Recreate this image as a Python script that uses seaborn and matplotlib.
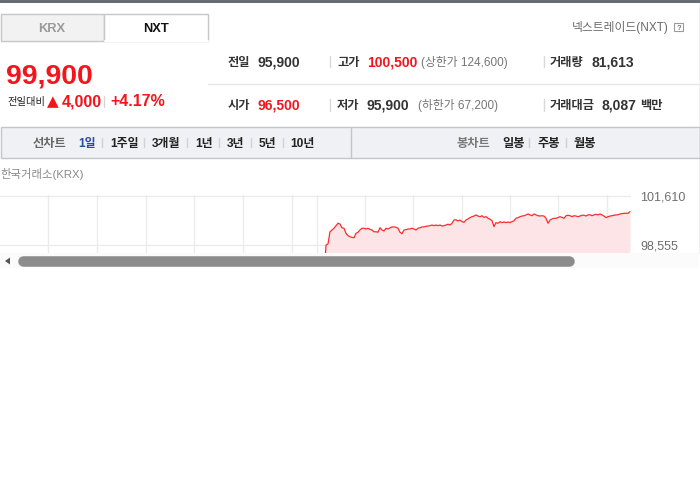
import numpy as np
import matplotlib
matplotlib.use('Agg')
import matplotlib.pyplot as plt
import seaborn as sns
from matplotlib.patches import Rectangle, Polygon
from matplotlib.lines import Line2D

# ---------------- data ----------------
exchange_tabs = ['KRX', 'NXT']
venue_label = '넥스트레이드(NXT)'
current_price = '99,900'
change_label = '전일대비'
change_amount = '4,000'
change_pct = '+4.17%'
row1_labels = ['전일', '고가', '거래량']
row1_values = ['95,900', '100,500', '81,613']
row2_labels = ['시가', '저가', '거래대금']
row2_values = ['96,500', '95,900', '8,087']
upper_limit = '(상한가 124,600)'
lower_limit = '(하한가 67,200)'
amount_unit = '백만'
line_chart_label = '선차트'
periods = ['1일', '1주일', '3개월', '1년', '3년', '5년', '10년']
candle_label = '봉차트'
candle_types = ['일봉', '주봉', '월봉']
chart_source = '한국거래소(KRX)'
ytick_values = [98555, 101610]

prices = [96500, 98550, 98620, 99380, 99490, 99600, 99760, 99910, 99860, 99630,
          99600, 99280, 99140, 99070, 99030, 99010, 99280, 99350, 99490, 99600,
          99600, 99550, 99600, 99530, 99490, 99380, 99380, 99350, 99630, 99490,
          99430, 99600, 99550, 99630, 99680, 99680, 99660, 99600, 99350, 99260,
          99490, 99510, 99550, 99550, 99600, 99550, 99490, 99600, 99630, 99680,
          99680, 99720, 99740, 99760, 99800, 99760, 99800, 99760, 99800, 99740,
          99760, 99800, 99850, 99800, 99910, 100110, 100130, 100050, 100110, 100010,
          99970, 100110, 100180, 100260, 100320, 100360, 100430, 100360, 100320, 100380,
          100280, 100320, 100220, 100160, 100070, 99700, 99950, 99910, 100010, 99950,
          99990, 99950, 99990, 99950, 100010, 100070, 100220, 100260, 100320, 100360,
          100380, 100430, 100490, 100430, 100380, 100490, 100430, 100380, 100360, 100380,
          100360, 100220, 99910, 100110, 100180, 100220, 100220, 100260, 100320, 100280,
          100220, 100380, 100410, 100380, 100320, 100380, 100360, 100320, 100360, 100410,
          100410, 100360, 100430, 100440, 100380, 100430, 100470, 100430, 100490, 100430,
          100360, 100260, 100320, 100360, 100380, 100410, 100430, 100440, 100490, 100510,
          100530, 100530, 100530, 100640]

# ---------------- style ----------------
W, H = 700, 490
RED = '#f5141c'
DARK = '#333333'
GRAY = '#767676'
BLUE = '#2c4a9e'
KR = 'Noto Sans CJK KR'
KSZ = 8.8

sns.set_theme(style='white')
plt.rcParams['font.family'] = ['Liberation Sans', KR, 'DejaVu Sans']

fig = plt.figure(figsize=(7, 4.9), dpi=100)
fig.patch.set_facecolor('white')


def fx(px):
    return px / W


def fy(py):
    return 1 - py / H


def rect(x0, y0, x1, y1, fc, ec='none', lw=0, z=1):
    r = Rectangle((fx(x0), fy(y1)), (x1 - x0) / W, (y1 - y0) / H,
                  transform=fig.transFigure, facecolor=fc, edgecolor=ec,
                  linewidth=lw, zorder=z)
    fig.add_artist(r)


def hline(x0, x1, y, c, lw=1, z=2):
    fig.add_artist(Line2D([fx(x0), fx(x1)], [fy(y), fy(y)], transform=fig.transFigure,
                          color=c, linewidth=lw, zorder=z))


def vline(x, y0, y1, c, lw=1, z=2):
    fig.add_artist(Line2D([fx(x), fx(x)], [fy(y0), fy(y1)], transform=fig.transFigure,
                          color=c, linewidth=lw, zorder=z))


def txt(x, y, s, size, color=DARK, weight='normal', ha='left', va='baseline', **kw):
    fig.text(fx(x), fy(y), s, fontsize=size, color=color, fontweight=weight,
             ha=ha, va=va, zorder=5, **kw)


# ---------------- chart ----------------
top_px, bot_px = 196, 253
per_px = (ytick_values[1] - ytick_values[0]) / (245 - 196)
y_top = ytick_values[1] + 0.6 * per_px
y_bot = ytick_values[1] - (bot_px - 196) * per_px
ax = fig.add_axes([fx(0), fy(bot_px), fx(631), (bot_px - top_px + 0.6) / H])
idx = np.arange(len(prices))
x0_px, step_px = 324, 2
ax.set_xlim((0 - x0_px) / step_px, (631 - x0_px) / step_px)
ax.set_ylim(y_bot, y_top)
grid_px = [48, 97, 146, 194, 243, 292, 317, 365, 413, 462, 510, 558, 607]
ax.set_xticks([(g - x0_px) / step_px for g in grid_px])
ax.set_xticklabels([])
ax.set_yticks(ytick_values)
ax.set_yticklabels([f'{v:,}' for v in ytick_values])
ax.yaxis.tick_right()
ax.tick_params(axis='both', length=0)
ax.tick_params(axis='y', pad=6.5, labelsize=9, labelcolor='#6e6e6e')
ax.grid(True, color='#ebebeb', linewidth=1)
ax.set_axisbelow(True)
for s in ax.spines.values():
    s.set_visible(False)
ax.fill_between(idx, prices, y_bot - 5000, color='#fde4e7', linewidth=0, zorder=1)
sns.lineplot(x=idx, y=prices, ax=ax, color='#ff2a2a', linewidth=0.9, zorder=3)
ax.set_xlabel('')
ax.set_ylabel('')

# ---------------- frame / header ----------------
rect(0, 0, 700, 3, '#666b75', z=3)
vline(699.5, 3, 253, '#b5b5b5', lw=1)

# tabs
rect(0.5, 14, 104, 41, '#f2f2f2', ec='#c6c6c6', lw=1)
rect(104, 14, 208, 41, 'white', ec='#c6c6c6', lw=1)
hline(104.5, 207.5, 41, 'white', lw=1.5, z=3)
txt(52, 32, exchange_tabs[0], 9.3, color='#9a9a9a', weight='bold', ha='center')
txt(156, 32, exchange_tabs[1], 9.3, color='#111111', weight='bold', ha='center')

# venue label with help icon
txt(669, 31.5, venue_label, 8.5, color='#6a6a6a', ha='right')
rect(674, 23, 683, 31, 'white', ec='#9a9a9a', lw=0.8)
txt(678.5, 30, '?', 5.5, color='#777777', weight='bold', ha='center')

# price block
txt(6, 83, current_price, 20.5, color=RED, weight='bold')
txt(7, 105.5, change_label, 7.4, color='#222222', family=[KR])
txt(46.5, 106.5, '▲', 11, color=RED, family=['DejaVu Sans'])
txt(62, 106, change_amount, 11.5, color=RED, weight='bold')
vline(104, 96, 107, '#d5d5d5')
txt(110, 106, change_pct, 11.5, color=RED, weight='bold')

# stats table
hline(208, 700, 84, '#e6e6e6')
row_base = [66, 109.5]
label_x = [228, 337, 550]
value_x = [257, 367, 591]
for r, labels in enumerate([row1_labels, row2_labels]):
    yb = row_base[r]
    for c in range(3):
        txt(label_x[c], yb, labels[c], KSZ, color=DARK, weight='bold', family=[KR])
    vline(330, yb - 10, yb + 1, '#d8d8d8')
    vline(544, yb - 10, yb + 1, '#d8d8d8')
txt(value_x[0], 66, row1_values[0], 10, color=DARK, weight='bold')
txt(value_x[1], 66, row1_values[1], 10, color=RED, weight='bold')
txt(421, 66, upper_limit, 8.5, color=GRAY)
txt(value_x[2], 66, row1_values[2], 10, color=DARK, weight='bold')
txt(value_x[0], 109.5, row2_values[0], 10, color=RED, weight='bold')
txt(value_x[1], 109.5, row2_values[1], 10, color=DARK, weight='bold')
txt(418, 109.5, lower_limit, 8.5, color=GRAY)
txt(601, 109.5, row2_values[2], 10, color=DARK, weight='bold')
txt(640, 109.5, amount_unit, KSZ, color=DARK, weight='bold', family=[KR])

# toolbar
rect(0.5, 127.5, 699.5, 158, '#f0f1f5', ec='#c3c5cc', lw=1)
vline(351, 128, 158, '#c3c5cc')
tb = 147.5
txt(33, tb, line_chart_label, KSZ, color='#666666', weight='bold', family=[KR])
period_x = [78, 110, 152, 195, 227, 259, 290]
sep_x = [102, 144, 187, 219, 251, 283]
for i, (p, px) in enumerate(zip(periods, period_x)):
    txt(px, tb, p, 8.6, color=BLUE if i == 0 else '#222222', weight='bold')
for sx in sep_x:
    vline(sx, tb - 9, tb, '#d0d2d8')
txt(457, tb, candle_label, KSZ, color='#777777', weight='bold', family=[KR])
for p, px in zip(candle_types, [502, 537, 573]):
    txt(px, tb, p, KSZ, color='#222222', weight='bold', family=[KR])
for sx in [529, 566]:
    vline(sx, tb - 9, tb, '#d0d2d8')

# chart source label
txt(0, 178, chart_source, 8.2, color='#8a8a8a')

# scrollbar
rect(0, 253, 699, 268, '#fbfbfb', z=3)
fig.add_artist(Polygon([[fx(5), fy(261)], [fx(10), fy(257.5)], [fx(10), fy(264.5)]],
                       closed=True, transform=fig.transFigure, facecolor='#555555',
                       edgecolor='none', zorder=4))
fig.add_artist(Line2D([fx(23), fx(569)], [fy(261), fy(261)], transform=fig.transFigure,
                      color='#8c8c8c', linewidth=7.6, solid_capstyle='round', zorder=4))

fig.savefig('out.png', dpi=100, facecolor='white')
